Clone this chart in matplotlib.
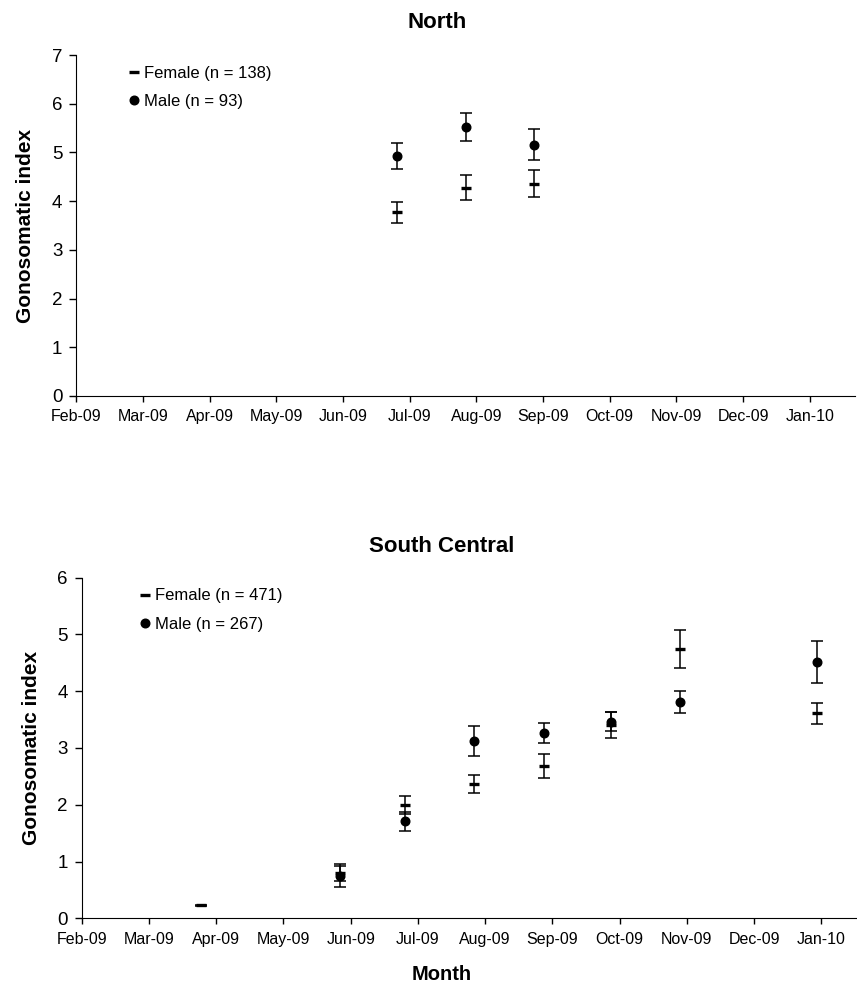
import matplotlib
matplotlib.use("Agg")
import matplotlib.pyplot as plt
import matplotlib.dates as mdates
import datetime as dt

plt.rcParams['font.family'] = ['Liberation Sans', 'DejaVu Sans']

# North: sampling dates, mean GSI and error
north_dates = ['2009-06-30', '2009-08-01', '2009-09-02']
north_female = [3.77, 4.28, 4.36]
north_female_err = [0.22, 0.25, 0.27]
north_male = [4.93, 5.52, 5.16]
north_male_err = [0.26, 0.28, 0.32]

# South Central
sc_female_dates = ['2009-03-28', '2009-05-31', '2009-06-30', '2009-08-01',
                   '2009-09-02', '2009-10-03', '2009-11-04', '2010-01-06']
sc_female = [0.23, 0.79, 2.00, 2.36, 2.68, 3.41, 4.74, 3.61]
sc_female_err = [0.01, 0.13, 0.16, 0.16, 0.21, 0.23, 0.33, 0.18]
sc_male_dates = ['2009-05-31', '2009-06-30', '2009-08-01', '2009-09-02',
                 '2009-10-03', '2009-11-04', '2010-01-06']
sc_male = [0.75, 1.71, 3.12, 3.26, 3.46, 3.81, 4.51]
sc_male_err = [0.20, 0.17, 0.26, 0.18, 0.17, 0.19, 0.37]

start = dt.datetime(2009, 2, 1)
tick_days = 31   # excel major unit


def to_dates(lst):
    return [dt.datetime.strptime(s, '%Y-%m-%d') for s in lst]


def draw_panel(ax, fdates, f, ferr, mdates_, m, merr, flabel, mlabel,
               ymax, xdays, leg_anchor):
    fd = to_dates(fdates)
    md = to_dates(mdates_)
    # error bars first, markers on top
    ax.errorbar(fd, f, yerr=ferr, fmt='none', ecolor='black',
                elinewidth=1.1, capsize=4, capthick=1.1, zorder=2)
    ax.errorbar(md, m, yerr=merr, fmt='none', ecolor='black',
                elinewidth=1.1, capsize=4, capthick=1.1, zorder=2)
    ax.plot(fd, f, ls='none', marker='_', color='black', ms=7, mew=2.4,
            label=flabel, zorder=3)
    ax.plot(md, m, ls='none', marker='o', color='black', ms=6.2,
            label=mlabel, zorder=4)
    ax.set_xlim(start, start + dt.timedelta(days=xdays))
    ax.set_ylim(0, ymax)
    ticks = [start + dt.timedelta(days=tick_days * k) for k in range(12)]
    ax.set_xticks(ticks)
    ax.xaxis.set_major_formatter(mdates.DateFormatter('%b-%y'))
    ax.set_yticks(range(0, ymax + 1))
    for s in ['top', 'right']:
        ax.spines[s].set_visible(False)
    ax.tick_params(axis='x', direction='out', length=4.5, width=1,
                   labelsize=11.5, pad=5)
    ax.tick_params(axis='y', direction='out', length=5, width=1,
                   labelsize=13.5, pad=5)
    ax.set_ylabel('Gonosomatic index', fontsize=15, fontweight='bold',
                  labelpad=12)
    ax.legend(loc='upper left', bbox_to_anchor=leg_anchor,
              frameon=False, fontsize=12, handlelength=0.6,
              handletextpad=0.3, labelspacing=0.8, borderpad=0,
              borderaxespad=0)


fig = plt.figure(figsize=(8.57, 9.9), dpi=100)

ax1 = fig.add_axes([0.089, 0.6, 0.9086, 0.3444])
draw_panel(ax1, north_dates, north_female, north_female_err,
           north_dates, north_male, north_male_err,
           'Female (n = 138)', 'Male (n = 93)', 7, 362, (0.068, 0.968))
fig.text(437 / 857, 1 - 22 / 990, 'North', ha='center', va='center',
         fontsize=16, fontweight='bold')

ax2 = fig.add_axes([0.0953, 0.0724, 0.9037, 0.3442])
draw_panel(ax2, sc_female_dates, sc_female, sc_female_err,
           sc_male_dates, sc_male, sc_male_err,
           'Female (n = 471)', 'Male (n = 267)', 6, 357, (0.075, 0.968))
fig.text(442 / 857, 1 - 547 / 990, 'South Central', ha='center',
         va='center', fontsize=16, fontweight='bold')
fig.text(442 / 857, 1 - 975 / 990, 'Month', ha='center', va='center',
         fontsize=14.5, fontweight='bold')

fig.savefig('out.png', dpi=100)
